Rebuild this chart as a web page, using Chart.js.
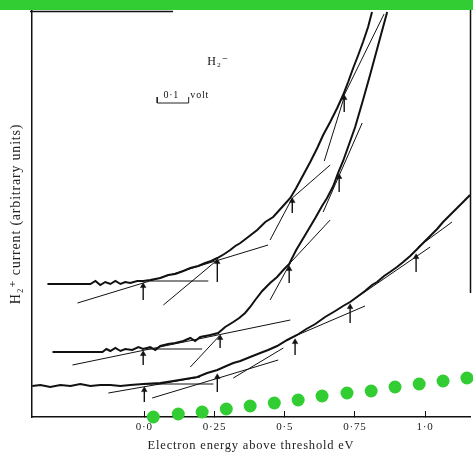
<!DOCTYPE html>
<html><head><meta charset="utf-8">
<script src="https://cdn.jsdelivr.net/npm/chart.js@4.4.1/dist/chart.umd.min.js"></script>
<style>html,body{margin:0;padding:0;background:#fff;overflow:hidden}</style>
</head><body>
<canvas id="c" width="473" height="453"></canvas>
<script>
// ---- axis ticks ----
const tickValues = [0, 0.25, 0.5, 0.75, 1.0];
const tickLabels = ['0·0', '0·25', '0·5', '0·75', '1·0'];

// ---- recorded traces (x: electron energy above threshold, eV; y: H2+ current, arbitrary units) ----
const curveA_x = [-0.345,-0.192,-0.174,-0.157,-0.139,-0.121,-0.103,-0.085,-0.068,-0.050,-0.025,-0.004,0.021,0.057,0.085,0.110,0.139,0.164,0.192,0.217,0.238,0.260,0.285,0.306,0.324,0.342,0.370,0.402,0.431,0.459,0.491,0.520,0.541,0.566,0.591,0.616,0.637,0.662,0.687,0.708,0.726,0.744,0.762,0.779,0.797,0.811];
const curveA_y = [133,133,136,132,135,133,136,133,135,134,136,136,137,139,142,143,146,149,151,154,156,159,163,167,171,174,180,187,195,200,210,219,229,242,255,269,282,295,309,322,335,349,362,375,390,405];

const curveB_x = [-0.327,-0.149,-0.135,-0.121,-0.103,-0.085,-0.068,-0.043,-0.021,-0.004,0.021,0.039,0.057,0.085,0.110,0.139,0.164,0.181,0.199,0.235,0.263,0.288,0.317,0.338,0.359,0.377,0.395,0.420,0.448,0.473,0.495,0.516,0.541,0.573,0.609,0.633,0.651,0.673,0.690,0.708,0.722,0.751,0.779,0.804,0.833,0.865];
const curveB_y = [65,65,68,66,69,66,68,67,70,68,70,67,71,73,74,76,79,76,80,82,84,90,95,99,104,110,117,126,134,140,147,153,167,182,199,211,219,231,244,256,267,290,317,342,372,405];

const curveC_x = [-0.399,-0.370,-0.335,-0.299,-0.263,-0.228,-0.192,-0.157,-0.121,-0.085,-0.050,-0.004,0.057,0.103,0.146,0.189,0.224,0.260,0.292,0.317,0.342,0.377,0.413,0.441,0.473,0.509,0.544,0.577,0.609,0.644,0.680,0.708,0.733,0.762,0.786,0.811,0.829,0.854,0.875,0.900,0.922,0.947,0.972,0.993,1.018,1.043,1.064,1.089,1.114,1.139,1.160];
const curveC_y = [31,32,30,32,31,33,31,32,32,31,32,33,34,36,38,40,44,47,51,54,56,60,64,67,71,77,82,88,93,100,106,111,115,121,126,132,135,141,145,150,155,161,168,174,181,188,195,202,209,216,222];

// ---- drawn tangent lines: [x1, y1, x2, y2] ----
const tangentsA = [[0.021,136,0.228,136],[-0.238,114,0.441,172],[0.068,112,0.260,157],[0.448,177,0.527,219],[0.527,219,0.662,252],[0.641,256,0.712,320],[0.712,322,0.854,403]];
const tangentsB = [[0.004,68,0.206,68],[-0.256,52,0.520,97],[0.164,50,0.267,81],[0.448,117,0.520,154],[0.516,153,0.662,197],[0.637,205,0.776,294]];
const tangentsC = [[-0.004,33,0.246,33],[-0.128,24,0.199,40],[0.028,19,0.477,57],[0.317,39,0.495,69],[0.537,81,0.786,111],[0.733,115,1.018,170],[0.975,170,1.096,195]];

// ---- onset arrows ----
const arrowX    = [-0.004,0.260,0.527,0.712, -0.004,0.270,0.516,0.694, 0.000,0.260,0.537,0.733,0.968];
const arrowTip  = [131,155,216,319, 63,79,148,240, 27,40,75,110,160];
const arrowBase = [117,135,204,305, 52,69,134,225, 15,25,62,94,145];

// ---- green dot series ----
const dotsX = [0.032,0.121,0.206,0.292,0.377,0.463,0.548,0.633,0.722,0.808,0.893,0.979,1.064,1.149];
const dotsY = [0,3,5,8,11,14,17,21,24,26,30,33,36,39];

// ---- 0.1 volt scale bar ----
const scaleBarX = [0.046, 0.158];
const scaleBarY = [314, 320];

const SERIF = '"Liberation Serif", "DejaVu Serif", serif';
const GREEN = 'rgb(50,205,50)';
const pts = (xs, ys) => xs.map((x, i) => ({x: x, y: ys[i]}));

// keep the plot frame exactly where the layout padding puts it
Chart.ScatterController.prototype.getMaxOverflow = function () { return 0; };

const datasets = [];
datasets.push({data: pts(dotsX, dotsY), showLine: false, pointRadius: 6.5, pointBackgroundColor: GREEN, pointBorderWidth: 0, pointBorderColor: GREEN, clip: false});
function curve(xs, ys) {
  datasets.push({data: pts(xs, ys), showLine: true, borderColor: '#111', borderWidth: 2, pointRadius: 0, tension: 0});
}
curve(curveA_x, curveA_y); curve(curveB_x, curveB_y); curve(curveC_x, curveC_y);
[tangentsA, tangentsB, tangentsC].forEach(set => set.forEach(t => {
  datasets.push({data: [{x: t[0], y: t[1]}, {x: t[2], y: t[3]}], showLine: true, borderColor: '#111', borderWidth: 1, pointRadius: 0});
}));
arrowX.forEach((x, i) => {
  datasets.push({data: [{x: x, y: arrowBase[i]}, {x: x, y: arrowTip[i]}], showLine: true, borderColor: '#111', borderWidth: 1.4,
    pointRadius: [0, 3.2], pointStyle: 'triangle', pointBackgroundColor: '#111', pointBorderColor: '#111', pointBorderWidth: 0.5});
});
datasets.push({data: [{x: scaleBarX[0], y: scaleBarY[1]}, {x: scaleBarX[0], y: scaleBarY[0]}, {x: scaleBarX[1], y: scaleBarY[0]}, {x: scaleBarX[1], y: scaleBarY[1]}],
  showLine: true, borderColor: '#222', borderWidth: 1, pointRadius: 0});

const decor = {
  id: 'decor',
  beforeDraw(chart) {
    const ctx = chart.ctx;
    ctx.save();
    ctx.fillStyle = GREEN;
    ctx.fillRect(0, 0, chart.width, 10);
    ctx.restore();
    ctx.letterSpacing = '0.8px';
  },
  beforeDatasetsDraw(chart) {
    const {ctx, chartArea: a} = chart;
    ctx.save();
    ctx.strokeStyle = '#111';
    ctx.lineWidth = 1.5;
    ctx.beginPath();
    ctx.moveTo(a.left - 2, a.top + 0.5); ctx.lineTo(a.left + 141, a.top + 0.5);
    ctx.moveTo(a.right + 0.5, a.top - 1); ctx.lineTo(a.right + 0.5, a.top + 282);
    ctx.stroke();
    const xs = chart.scales.x, ys = chart.scales.y;
    ctx.fillStyle = '#111';
    ctx.font = '12px ' + SERIF;
    ctx.textAlign = 'center'; ctx.textBaseline = 'middle';
    ctx.fillText('H₂⁻', xs.getPixelForValue(0.263), ys.getPixelForValue(355));
    ctx.font = '10px ' + SERIF;
    ctx.fillText('0·1', xs.getPixelForValue(0.096), ys.getPixelForValue(322));
    ctx.textAlign = 'left';
    ctx.fillText('volt', xs.getPixelForValue(0.164), ys.getPixelForValue(322));
    ctx.restore();
  }
};

new Chart(document.getElementById('c'), {
  type: 'scatter',
  data: {datasets: datasets},
  plugins: [decor],
  options: {
    responsive: false, animation: false, devicePixelRatio: 1,
    layout: {padding: {top: 11, right: 3, left: 0, bottom: 0}},
    plugins: {legend: {display: false}, tooltip: {enabled: false}},
    scales: {
      x: {
        type: 'linear', min: -0.4, max: 1.16,
        afterBuildTicks: s => { s.ticks = tickValues.map(v => ({value: v})); },
        afterFit: s => { s.height = 36; s.paddingLeft = 0; s.paddingRight = 0; },
        grid: {drawOnChartArea: false, drawTicks: true, tickLength: -6, color: '#111', lineWidth: 1},
        border: {display: true, color: '#111', width: 1.5},
        ticks: {color: '#222', font: {family: SERIF, size: 11}, padding: 10, maxRotation: 0,
          callback: (v) => { const i = tickValues.indexOf(v); return i >= 0 ? tickLabels[i] : ''; }},
        title: {display: true, text: 'Electron energy above threshold eV', color: '#222', font: {family: SERIF, size: 12.5}, padding: {top: 0, bottom: 0}}
      },
      y: {
        type: 'linear', min: 0, max: 406,
        afterFit: s => { s.width = 32; },
        grid: {display: false},
        border: {display: true, color: '#111', width: 1.5},
        ticks: {display: false},
        title: {display: true, text: 'H₂⁺ current (arbitrary units)', color: '#222', font: {family: SERIF, size: 14}, padding: {top: 8, bottom: 0}}
      }
    }
  }
});
</script>
</body></html>
